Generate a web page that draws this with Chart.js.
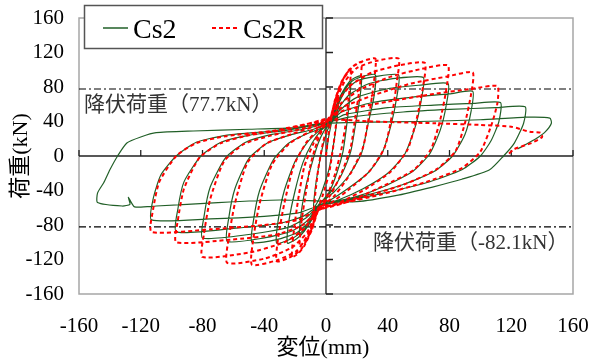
<!DOCTYPE html>
<html>
<head>
<meta charset="utf-8">
<script src="https://cdn.jsdelivr.net/npm/chart.js@4.4.1/dist/chart.umd.min.js"></script>
<style>
html, body { margin: 0; padding: 0; background: #fff; }
</style>
</head>
<body>
<canvas id="chart_instance" width="591" height="361"></canvas>
<script>
// axis ranges / ticks
var xRange = [-160, 160];
var yRange = [-160, 160];
var tickStep = 40;

// yield loads (kN)
var yieldPos = 77.7;
var yieldNeg = -82.1;
var yieldPosLabel = "降伏荷重（77.7kN）";
var yieldNegLabel = "降伏荷重（-82.1kN）";

var seriesNames = ["Cs2", "Cs2R"];

var cs2Cycles = [
    [[0,0],[2,25],[5,48],[8,62],[7,40],[5,15],[2,-15],[-2,-38],[-5,-52],[-8,-60],[-7,-38],[-5,-15],[-2,12],[1,30],[3,38]],
    [[6,55],[10,72],[13,80],[16,85],[15,60],[13,30],[11,5],[7,-20],[2,-42],[-4,-56],[-8,-70],[-12,-82],[-17,-92],[-16,-65],[-13,-35],[-9,-8],[-5,15],[-1,30],[3,38]],
    [[6,55],[10,72],[15,86],[19,91],[23,93],[22,68],[19,35],[16,5],[10,-22],[3,-42],[-5,-57],[-9,-73],[-14,-87],[-19,-96],[-25,-101],[-24,-75],[-20,-40],[-15,-8],[-9,15],[-3,30],[3,39]],
    [[6,55],[11,74],[17,87],[25,93],[32,94],[31,68],[27,35],[23,3],[15,-22],[5,-42],[-5,-57],[-10,-76],[-17,-90],[-25,-98],[-32,-101],[-31,-75],[-27,-40],[-20,-6],[-12,16],[-4,30],[3,39]],
    [[7,56],[12,74],[20,87],[32,92],[47,94],[46,70],[42,35],[36,2],[27,-20],[14,-38],[2,-52],[-5,-58],[-11,-76],[-19,-89],[-32,-97],[-48,-100],[-47,-75],[-43,-40],[-34,-4],[-24,15],[-12,26],[-2,33],[3,40]],
    [[8,55],[15,71],[28,84],[45,90],[63,91],[62,68],[58,35],[51,2],[40,-20],[24,-38],[8,-51],[-5,-58],[-12,-75],[-22,-87],[-40,-95],[-64,-99],[-63,-72],[-59,-38],[-50,-3],[-38,15],[-22,25],[-8,31],[3,40]],
    [[9,53],[20,68],[40,78],[60,82],[79,84],[78,60],[74,30],[67,2],[56,-18],[38,-35],[18,-48],[0,-55],[-5,-58],[-13,-72],[-25,-83],[-50,-91],[-80,-95],[-79,-70],[-75,-36],[-65,-2],[-52,16],[-35,25],[-15,31],[3,40]],
    [[10,51],[30,62],[55,68],[80,72],[95,75],[94,52],[90,25],[82,0],[70,-18],[50,-33],[25,-46],[5,-54],[-5,-58],[-15,-70],[-30,-78],[-60,-84],[-97,-88],[-96,-62],[-92,-30],[-81,0],[-68,16],[-50,24],[-25,30],[3,40]],
    [[12,48],[40,56],[70,59],[95,61],[113,62],[112,40],[107,18],[100,0],[88,-16],[65,-31],[35,-44],[10,-53],[-5,-58],[-18,-66],[-40,-70],[-75,-73],[-113,-74],[-112,-50],[-107,-22],[-97,0],[-84,16],[-65,24],[-35,29],[3,40]],
    [[15,45],[50,51],[80,54],[110,56],[129,57],[128,38],[122,15],[115,0],[106,-16],[88,-27],[69,-36],[45,-46],[20,-53],[-5,-52],[-30,-51],[-70,-54],[-110,-58],[-124,-59],[-128,-48],[-127,-56],[-132,-58],[-148,-54],[-148,-43],[-144,-31],[-140,-16],[-135,0],[-129,15],[-120,22],[-110,27],[-86,29],[-50,31],[-20,33],[2,38]],
    [[20,39],[60,40],[100,42],[130,45],[145,44],[146,38],[142,28],[136,20],[128,12],[124,8]]
];

// Cs2R
var cs2rCycles = [
    [[0,0],[2,30],[5,55],[8,70],[7,45],[5,15],[2,-20],[-2,-45],[-5,-60],[-8,-72],[-7,-45],[-5,-15],[-2,15],[1,35],[3,45]],
    [[6,65],[10,85],[13,95],[16,100],[15,72],[13,40],[10,8],[6,-20],[1,-45],[-5,-62],[-9,-80],[-13,-95],[-17,-105],[-16,-78],[-13,-42],[-10,-10],[-6,15],[-2,32],[3,45]],
    [[6,66],[10,86],[15,100],[19,106],[23,109],[22,82],[19,45],[16,10],[10,-20],[3,-45],[-5,-63],[-9,-85],[-14,-104],[-18,-113],[-22,-117],[-21,-90],[-18,-50],[-14,-12],[-8,15],[-2,33],[3,45]],
    [[6,66],[11,88],[17,103],[24,110],[32,113],[31,85],[28,48],[24,10],[16,-20],[6,-45],[-5,-63],[-10,-88],[-16,-108],[-24,-118],[-32,-122],[-31,-95],[-27,-55],[-21,-12],[-13,15],[-4,33],[3,45]],
    [[7,66],[12,86],[20,102],[32,110],[47,113],[46,88],[43,50],[38,10],[28,-18],[14,-40],[2,-56],[-5,-63],[-11,-90],[-19,-110],[-32,-121],[-48,-126],[-47,-95],[-43,-55],[-35,-10],[-24,14],[-12,27],[-2,36],[3,45]],
    [[8,64],[16,82],[30,97],[47,105],[64,108],[63,82],[59,45],[53,8],[42,-18],[26,-38],[10,-53],[-5,-63],[-12,-88],[-22,-106],[-40,-119],[-64,-124],[-63,-95],[-59,-55],[-51,-8],[-39,14],[-23,25],[-8,34],[3,45]],
    [[9,60],[22,77],[42,92],[62,101],[79,105],[78,78],[74,42],[68,8],[57,-16],[38,-34],[18,-50],[-5,-63],[-14,-84],[-27,-100],[-50,-112],[-80,-117],[-79,-90],[-75,-50],[-66,-6],[-53,14],[-35,24],[-15,32],[3,45]],
    [[10,56],[30,70],[55,84],[78,92],[95,97],[94,72],[90,38],[84,6],[72,-15],[52,-32],[26,-47],[5,-58],[-5,-63],[-15,-80],[-32,-91],[-62,-97],[-97,-100],[-96,-75],[-92,-38],[-82,-2],[-68,15],[-50,24],[-25,31],[3,45]],
    [[12,53],[40,63],[70,72],[95,78],[111,81],[111,61],[107,35],[100,5],[88,-14],[65,-30],[35,-45],[10,-55],[-5,-62],[-18,-74],[-40,-80],[-75,-85],[-113,-88],[-112,-62],[-108,-30],[-97,0],[-84,15],[-65,23],[-35,29],[3,42]],
    [[30,40],[70,38],[100,36],[120,34],[132,28],[139,27],[140,22],[133,15],[122,8],[118,2]]
];

function toXY(cycles) {
    var out = [];
    cycles.forEach(function (c) {
        c.forEach(function (p) { out.push({ x: p[0], y: p[1] }); });
    });
    return out;
}

var serif = "'Liberation Serif', 'Times New Roman', serif";
var mixed = "'Liberation Serif', 'Noto Sans CJK JP', serif";

var framePlugin = {
    id: "frame",
    beforeDatasetsDraw: function (chart) {
        var ctx = chart.ctx, a = chart.chartArea;
        var xs = chart.scales.x, ys = chart.scales.y;
        var x0 = xs.getPixelForValue(0), y0 = ys.getPixelForValue(0);
        ctx.save();
        // grey box
        ctx.strokeStyle = "#a6a6a6";
        ctx.lineWidth = 1.5;
        ctx.strokeRect(a.left, a.top, a.right - a.left, a.bottom - a.top);
        // axes through zero
        ctx.strokeStyle = "#222";
        ctx.lineWidth = 1.3;
        ctx.beginPath();
        ctx.moveTo(a.left, y0); ctx.lineTo(a.right, y0);
        ctx.moveTo(x0, a.top); ctx.lineTo(x0, a.bottom);
        for (var v = xRange[0]; v <= xRange[1]; v += tickStep) {
            var px = xs.getPixelForValue(v);
            ctx.moveTo(px, y0); ctx.lineTo(px, y0 - 6);
        }
        for (var w = yRange[0]; w <= yRange[1]; w += tickStep) {
            var py = ys.getPixelForValue(w);
            ctx.moveTo(x0, py); ctx.lineTo(x0 + 7, py);
        }
        ctx.stroke();
        // yield load lines
        ctx.setLineDash([7, 3, 2, 3]);
        ctx.lineWidth = 1.2;
        ctx.strokeStyle = "#000";
        [yieldPos, yieldNeg].forEach(function (val) {
            var py = ys.getPixelForValue(val);
            ctx.beginPath();
            ctx.moveTo(a.left, py); ctx.lineTo(a.right, py);
            ctx.stroke();
        });
        ctx.restore();
    },
    afterDraw: function (chart) {
        var ctx = chart.ctx, a = chart.chartArea;
        var xs = chart.scales.x, ys = chart.scales.y;
        var x0 = xs.getPixelForValue(0);
        ctx.save();
        // yield labels
        ctx.fillStyle = "#333";
        ctx.font = "21px " + mixed;
        ctx.textBaseline = "alphabetic";
        ctx.textAlign = "left";
        ctx.fillText(yieldPosLabel, a.left + 5, ys.getPixelForValue(yieldPos) + 22);
        ctx.fillText(yieldNegLabel, x0 + 47, ys.getPixelForValue(yieldNeg) + 22);
        // axis titles
        ctx.fillStyle = "#000";
        ctx.font = "22px " + mixed;
        ctx.textAlign = "center";
        ctx.textBaseline = "middle";
        ctx.fillText("変位(mm)", (a.left + a.right) / 2 - 3, 348);
        ctx.translate(21, (a.top + a.bottom) / 2);
        ctx.rotate(-Math.PI / 2);
        ctx.fillText("荷重(kN)", 0, 0);
        ctx.restore();

        // legend box
        ctx.save();
        ctx.fillStyle = "#fff";
        ctx.fillRect(84, 5, 238, 43);
        ctx.strokeStyle = "#555";
        ctx.lineWidth = 1.5;
        ctx.strokeRect(84.5, 5.5, 238, 43);
        ctx.lineWidth = 1.5;
        ctx.strokeStyle = "#215f27";
        ctx.beginPath(); ctx.moveTo(103, 28); ctx.lineTo(128, 28); ctx.stroke();
        ctx.strokeStyle = "#ff0000";
        ctx.lineWidth = 2;
        ctx.setLineDash([4, 3]);
        ctx.beginPath(); ctx.moveTo(212, 28); ctx.lineTo(238, 28); ctx.stroke();
        ctx.setLineDash([]);
        ctx.fillStyle = "#000";
        ctx.font = "28px " + serif;
        ctx.textAlign = "left";
        ctx.textBaseline = "alphabetic";
        ctx.fillText(seriesNames[0], 133, 38);
        ctx.fillText(seriesNames[1], 243, 38);
        ctx.restore();
    }
};

window.onload = function () {
    var canvas = document.getElementById("chart_instance").getContext("2d");
    new Chart(canvas, {
        type: "scatter",
        data: {
            datasets: [
                {
                    label: seriesNames[0],
                    data: toXY(cs2Cycles),
                    showLine: true,
                    borderColor: "#215f27",
                    borderWidth: 1.2,
                    pointRadius: 0,
                    tension: 0.2,
                    order: 1
                },
                {
                    label: seriesNames[1],
                    data: toXY(cs2rCycles),
                    showLine: true,
                    borderColor: "#ff0000",
                    borderWidth: 2,
                    borderDash: [4, 3],
                    pointRadius: 0,
                    tension: 0.2,
                    order: 0
                }
            ]
        },
        options: {
            responsive: false,
            animation: false,
            layout: { padding: { top: 18, right: 18, left: 0, bottom: 0 } },
            plugins: { legend: { display: false }, tooltip: { enabled: false } },
            scales: {
                x: {
                    type: "linear",
                    min: xRange[0], max: xRange[1],
                    grid: { display: false, drawTicks: false },
                    border: { display: false },
                    ticks: { stepSize: tickStep, color: "#000", padding: 20, maxRotation: 0,
                             font: { family: serif, size: 21 } },
                    afterFit: function (s) {
                        s.height = 67;
                        s.paddingLeft = 0; s.paddingRight = 0;
                    }
                },
                y: {
                    type: "linear",
                    min: yRange[0], max: yRange[1],
                    grid: { display: false, drawTicks: false },
                    border: { display: false },
                    ticks: { stepSize: tickStep, color: "#000", padding: 15,
                             font: { family: serif, size: 21 } },
                    afterFit: function (s) {
                        s.width = 79;
                        s.paddingTop = 0; s.paddingBottom = 0;
                    }
                }
            }
        },
        plugins: [framePlugin]
    });
};
</script>
</body>
</html>
